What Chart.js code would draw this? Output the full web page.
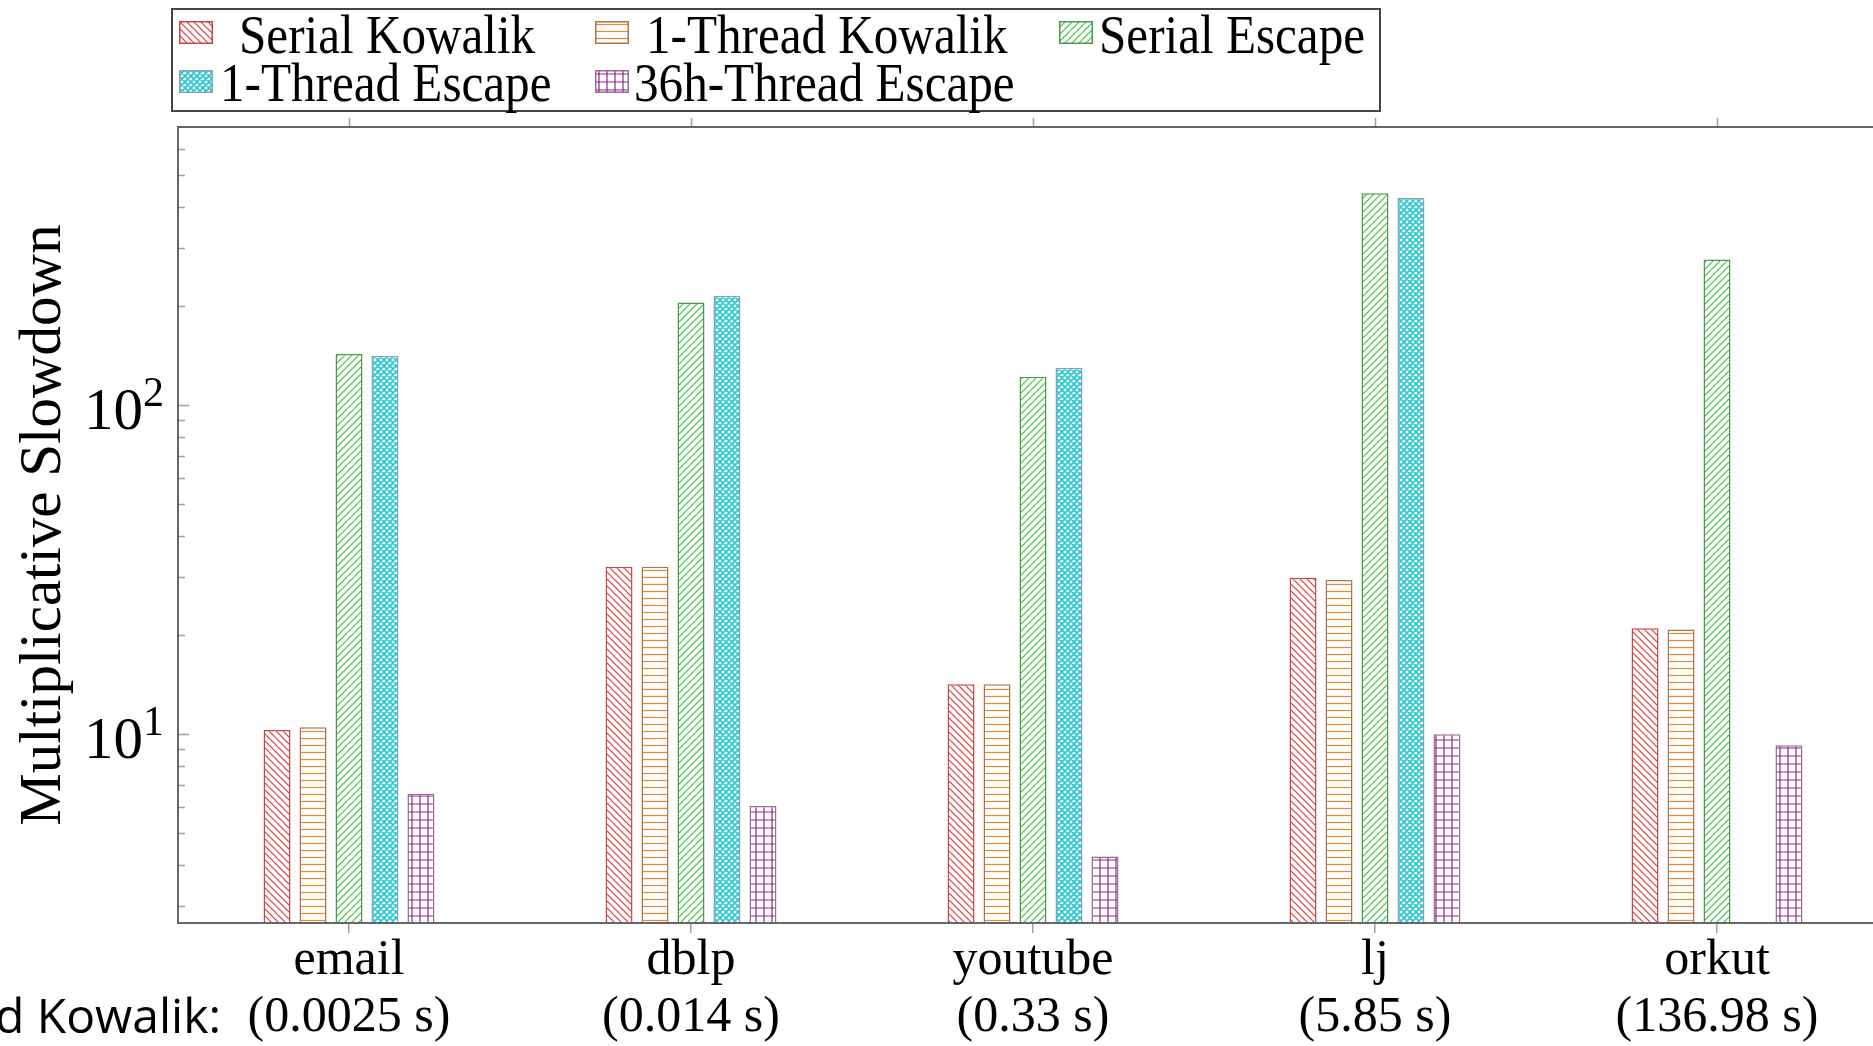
<!DOCTYPE html>
<html>
<head>
<meta charset="utf-8">
<script src="https://cdn.jsdelivr.net/npm/chart.js@4.4.0/dist/chart.umd.min.js"></script>
<style>
  html, body { margin: 0; padding: 0; background: #fff; overflow: hidden; }
  #wrap { position: relative; width: 1900px; height: 1046px; }
  #chart { position: absolute; left: 0; top: 0; }
  #legend { position: absolute; left: 171px; top: 8px; width: 1210px; height: 104px;
            box-sizing: border-box; border: 2px solid #444; background: #fff; }
  .lg-swatch { position: absolute; }
  .lg-text { position: absolute; font: 54px "Liberation Serif", serif; line-height: 54px;
             white-space: nowrap; transform: scaleX(0.91); transform-origin: left center; color: #000; }
  #sideLabel { position: absolute; right: 1679px; top: 991px; font: 48px "Open Sans", sans-serif;
               line-height: 48px; white-space: nowrap; color: #000; }
</style>
</head>
<body>
<div id="wrap">
  <canvas id="chart" width="1900" height="1046"></canvas>
  <div id="legend"></div>
  <div id="sideLabel">d Kowalik:</div>
</div>
<script>
// graphs and the Kowalik baseline time shown under each one
const graphs = ['email', 'dblp', 'youtube', 'lj', 'orkut'];
const kowalikTimes = ['(0.0025 s)', '(0.014 s)', '(0.33 s)', '(5.85 s)', '(136.98 s)'];

// multiplicative slowdown per graph
const serialKowalik   = [10.3, 32.3, 14.2, 29.9, 21.0];
const threadKowalik   = [10.5, 32.3, 14.2, 29.4, 20.8];
const serialEscape    = [143, 205, 122, 440, 277];
const threadEscape    = [141, 215, 130, 427, null];
const thread36Escape  = [6.6, 6.05, 4.25, 10.0, 9.26];

// log axis tick marks; only decades get a label (10^exp)
const yTickValues = [3, 4, 5, 6, 7, 8, 9, 10, 20, 30, 40, 50, 60, 70, 80, 90, 100, 200, 300, 400, 500, 600];
const yTickExponents = { 10: '1', 100: '2' };

// hatch patterns, drawn on a small tile and repeated
function makeTile(kind, color) {
    const s = kind === 'grid' ? 8 : (kind === 'cross' ? 6 : 7);
    const c = document.createElement('canvas');
    c.width = s; c.height = s;
    const g = c.getContext('2d');
    g.fillStyle = '#fff';
    g.fillRect(0, 0, s, s);
    g.strokeStyle = color;
    g.lineWidth = 1.2;
    g.beginPath();
    if (kind === 'nw') {
        g.moveTo(0, 0); g.lineTo(s, s);
        g.moveTo(-1, s - 1); g.lineTo(1, s + 1);
        g.moveTo(s - 1, -1); g.lineTo(s + 1, 1);
    } else if (kind === 'ne') {
        g.moveTo(0, s); g.lineTo(s, 0);
        g.moveTo(-1, 1); g.lineTo(1, -1);
        g.moveTo(s - 1, s + 1); g.lineTo(s + 1, s - 1);
    } else if (kind === 'horiz') {
        g.moveTo(0, 3.5); g.lineTo(s, 3.5);
    } else if (kind === 'cross') {
        g.lineWidth = 1.6;
        g.moveTo(0, 0); g.lineTo(s, s);
        g.moveTo(0, s); g.lineTo(s, 0);
        g.moveTo(-1, s - 1); g.lineTo(1, s + 1);
        g.moveTo(s - 1, -1); g.lineTo(s + 1, 1);
        g.moveTo(-1, 1); g.lineTo(1, -1);
        g.moveTo(s - 1, s + 1); g.lineTo(s + 1, s - 1);
    } else if (kind === 'grid') {
        g.moveTo(0, 4); g.lineTo(s, 4);
        g.moveTo(4, 0); g.lineTo(4, s);
    }
    g.stroke();
    return c;
}

const ctx = document.getElementById('chart').getContext('2d');

const seriesDefs = [
    { label: 'Serial Kowalik',    data: serialKowalik,  kind: 'nw',    color: '#e23a3a', border: '#c24848' },
    { label: '1-Thread Kowalik',  data: threadKowalik,  kind: 'horiz', color: '#e8892e', border: '#a8764a' },
    { label: 'Serial Escape',     data: serialEscape,   kind: 'ne',    color: '#3fc43f', border: '#4a9a4a' },
    { label: '1-Thread Escape',   data: threadEscape,   kind: 'cross', color: '#22c8d2', border: '#8aa2b4' },
    { label: '36h-Thread Escape', data: thread36Escape, kind: 'grid',  color: '#8a2a8a', border: '#9a6a9a' }
];

const datasets = seriesDefs.map(d => ({
    label: d.label,
    data: d.data,
    backgroundColor: ctx.createPattern(makeTile(d.kind, d.color), 'repeat'),
    borderColor: d.border,
    borderWidth: 1.5,
    borderSkipped: 'bottom',
    categoryPercentage: 0.526,
    barPercentage: 0.75
}));

// frame, inner y ticks, top x ticks and 10^n labels like pgfplots
const framePlugin = {
    id: 'frame',
    afterDraw(chart) {
        const { ctx, chartArea: a, scales: { x, y } } = chart;
        ctx.save();
        ctx.strokeStyle = '#a0a0a0';
        ctx.lineWidth = 1.5;
        ctx.beginPath();
        yTickValues.forEach(v => {
            const py = Math.round(y.getPixelForValue(v)) + 0.5;
            const len = yTickExponents[v] ? 11 : 7;
            ctx.moveTo(a.left, py); ctx.lineTo(a.left + len, py);
            ctx.moveTo(a.right, py); ctx.lineTo(a.right - len, py);
        });
        x.ticks.forEach((t, i) => {
            const px = Math.round(x.getPixelForTick(i)) + 0.5;
            ctx.moveTo(px, a.top - 9); ctx.lineTo(px, a.top);
        });
        ctx.stroke();
        ctx.strokeStyle = '#666';
        ctx.lineWidth = 2;
        ctx.strokeRect(a.left, a.top, a.right - a.left, a.bottom - a.top);

        // decade labels with a raised exponent
        ctx.fillStyle = '#000';
        ctx.textAlign = 'right';
        ctx.textBaseline = 'alphabetic';
        const xr = a.left - 14;
        Object.keys(yTickExponents).forEach(k => {
            const py = y.getPixelForValue(Number(k));
            ctx.font = '42px "Liberation Serif"';
            const ew = ctx.measureText(yTickExponents[k]).width;
            ctx.fillText(yTickExponents[k], xr, py + 1);
            ctx.font = '59px "Liberation Serif"';
            ctx.fillText('10', xr - ew, py + 24);
        });
        ctx.restore();
    }
};

new Chart(ctx, {
    type: 'bar',
    data: {
        labels: graphs.map((g, i) => [g, kowalikTimes[i]]),
        datasets: datasets
    },
    options: {
        responsive: false,
        animation: false,
        layout: { padding: { top: 127, right: 12, bottom: 0, left: 0 } },
        plugins: { legend: { display: false }, tooltip: { enabled: false } },
        scales: {
            x: {
                offset: true,
                grid: { offset: false, drawOnChartArea: false, drawTicks: true, tickLength: 10, color: '#a0a0a0', lineWidth: 1.5 },
                border: { display: false },
                ticks: {
                    color: '#000',
                    padding: -1,
                    maxRotation: 0,
                    font: { family: 'Liberation Serif', size: 50, lineHeight: 1.14 }
                },
                afterFit(scale) { scale.height = 123; }
            },
            y: {
                type: 'logarithmic',
                min: 2.67,
                max: 700,
                grid: { display: false },
                border: { display: false },
                afterBuildTicks(scale) { scale.ticks = yTickValues.map(v => ({ value: v })); },
                afterFit(scale) { scale.width = 178; },
                ticks: { display: false, autoSkip: false },
                title: {
                    display: true,
                    text: 'Multiplicative Slowdown',
                    color: '#000',
                    padding: { top: 9, bottom: 0 },
                    font: { family: 'Liberation Serif', size: 59, lineHeight: 1.2 }
                }
            }
        }
    },
    plugins: [framePlugin]
});

// legend laid out in pgfplots style columns
const legendSlots = [
    { sx: 179, tx: 239, row: 0 },
    { sx: 595, tx: 646, row: 0 },
    { sx: 1059, tx: 1099, row: 0 },
    { sx: 179, tx: 220, row: 1 },
    { sx: 595, tx: 634, row: 1 }
];
const wrap = document.getElementById('wrap');
seriesDefs.forEach((d, i) => {
    const slot = legendSlots[i];
    const sw = document.createElement('canvas');
    sw.width = 34; sw.height = 23;
    sw.className = 'lg-swatch';
    sw.style.left = slot.sx + 'px';
    sw.style.top = (slot.row ? 70 : 21) + 'px';
    const g = sw.getContext('2d');
    g.fillStyle = g.createPattern(makeTile(d.kind, d.color), 'repeat');
    g.fillRect(0, 0, 34, 23);
    g.strokeStyle = d.border;
    g.lineWidth = 1.5;
    g.strokeRect(0.75, 0.75, 32.5, 21.5);
    wrap.appendChild(sw);
    const t = document.createElement('span');
    t.className = 'lg-text';
    t.textContent = d.label;
    t.style.left = slot.tx + 'px';
    t.style.top = (slot.row ? 56 : 8) + 'px';
    wrap.appendChild(t);
});
</script>
</body>
</html>
